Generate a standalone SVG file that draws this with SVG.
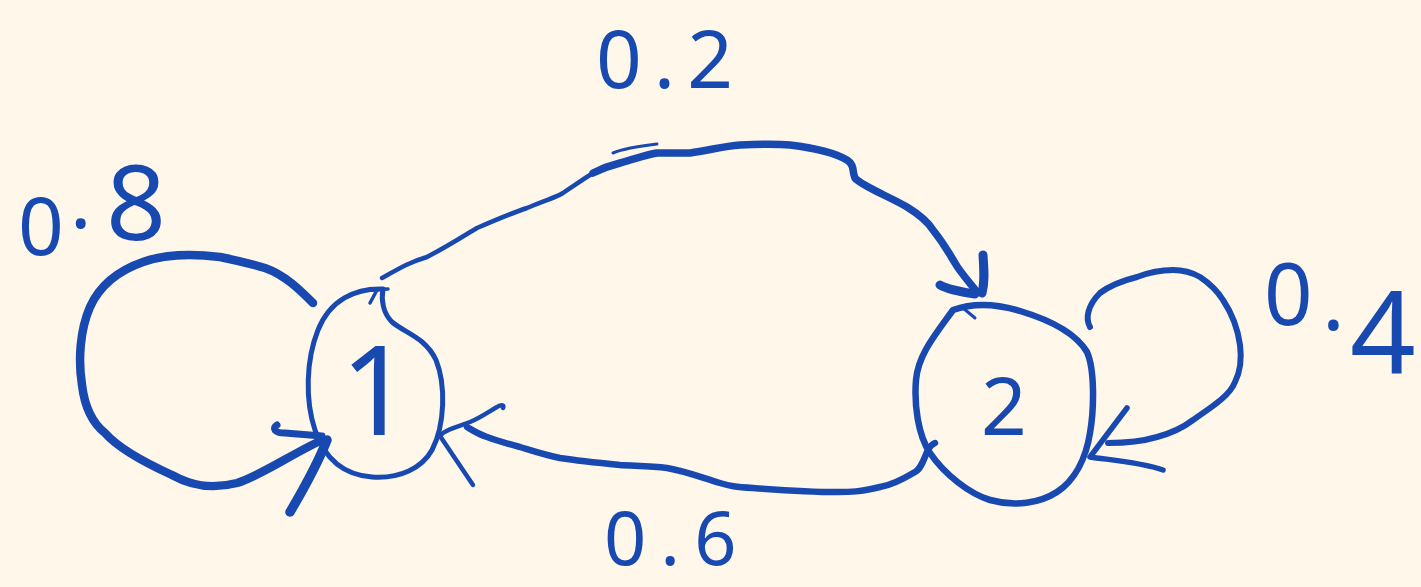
<svg xmlns="http://www.w3.org/2000/svg" width="1421" height="587" viewBox="0 0 1421 587">
<style>
.s{fill:none;stroke:#1849B1;stroke-linecap:round;stroke-linejoin:round}
.t{fill:#1849B1;font-family:"Noto Sans",sans-serif;font-weight:400}
</style>
<rect width="1421" height="587" fill="#FFF7E9"/>
<g id="connectors">
<path class="s" stroke-width="8.5" d="M313,303 C300,290 285,275 265,268 C245,262 235,260 220,257 C195,254 165,254 143,262 C120,270 100,285 90,307 C80,330 78,360 82,385 C85,410 95,425 105,433 C120,450 150,465 172,475 C190,485 210,490 237,483 C260,476 290,455 322,440"/>
<path class="s" stroke-width="7" d="M277,425 C272,428 274,433 285,433 L322,436"/>
<path class="s" stroke-width="9.5" d="M290,512 C300,495 315,470 327,440"/>
<path class="s" stroke-width="4.5" d="M382,278 C400,268 410,262 427,257 C450,245 465,235 477,228 C500,218 515,212 527,208 C545,200 555,198 563,193 C575,185 585,178 593,173"/>
<path class="s" stroke-width="7.5" d="M593,173 C605,167 612,165 620,163 C635,159 645,155 657,153 C670,153 680,153 690,153 C710,150 725,146 740,145 C760,144 780,144 790,145 C815,148 835,153 847,160 C855,165 852,172 855,178 C860,185 890,197 907,207 C920,215 928,222 933,230 C945,245 950,255 955,263 C960,272 970,283 977,292"/>
<path class="s" stroke-width="3" d="M613,153 C625,148 640,146 657,144"/>
<path class="s" stroke-width="9" d="M940,285 C945,288 960,292 975,294 M983,255 C984,270 985,282 982,293"/>
<path class="s" stroke-width="6.5" d="M935,443 C930,445 928,450 927,452 C923,462 920,470 915,472 C905,478 893,485 880,487 C860,492 850,492 837,492 C810,492 780,490 753,488 C735,487 730,486 720,483 C700,477 685,471 667,468 C650,466 635,466 620,465 C600,463 580,461 560,458 C545,455 530,450 520,447 C505,443 495,440 487,437 C478,434 472,430 467,427"/>
<path class="s" stroke-width="4.5" d="M503,408 C505,404 500,405 497,407 C490,411 480,418 470,422 C460,426 450,428 443,433 L440,436 L473,485"/>
<path class="s" stroke-width="6" d="M1090,327 C1085,318 1088,305 1100,293 C1112,284 1125,280 1137,277 C1150,272 1165,270 1173,270 C1185,270 1193,273 1200,277 C1212,285 1218,292 1223,300 C1233,315 1238,330 1240,345 C1242,360 1240,372 1235,382 C1230,395 1215,405 1193,420 C1180,430 1168,434 1157,437 C1140,442 1125,443 1108,443"/>
<path class="s" stroke-width="5.5" d="M1127,408 L1090,457 C1110,460 1140,462 1163,470"/>
</g>
<g id="node1">
<path class="s" stroke-width="5" d="M383,289 C355,288 330,300 318,330 C306,360 305,400 315,430 C325,460 345,475 372,477 C400,479 422,468 432,450 C445,425 446,385 436,360 C425,337 405,333 392,322 C383,313 381,300 383,289"/>
<path class="s" stroke-width="3.5" d="M370,303 L377,290 M370,290 L388,289"/>
<text class="t" x="376" y="435" font-size="125" text-anchor="middle">1</text>
</g>
<g id="node2">
<path class="s" stroke-width="6.5" d="M953,310 C975,302 1000,305 1020,311 C1050,320 1075,332 1087,352 C1095,370 1094,410 1090,433 C1086,458 1075,480 1057,492 C1040,503 1015,507 990,500 C970,494 945,475 930,453 C918,435 914,405 916,380 C918,355 935,335 953,310 Z"/>
<path class="s" stroke-width="3" d="M963,308 L975,318"/>
<text class="t" x="1004" y="435" font-size="80" text-anchor="middle">2</text>
</g>
<g id="labels">
<text class="t" font-size="80"><tspan x="18" y="255">0</tspan><tspan x="70" y="228">.</tspan><tspan x="106" y="240" font-size="105">8</tspan></text>
<text class="t" x="596" y="88" font-size="80" letter-spacing="12">0.2</text>
<text class="t" font-size="85"><tspan x="1264" y="325">0</tspan><tspan x="1322" y="330">.</tspan><tspan x="1350" y="374" font-size="115">4</tspan></text>
<text class="t" x="604" y="565" font-size="74" letter-spacing="14">0.6</text>
</g>
</svg>
